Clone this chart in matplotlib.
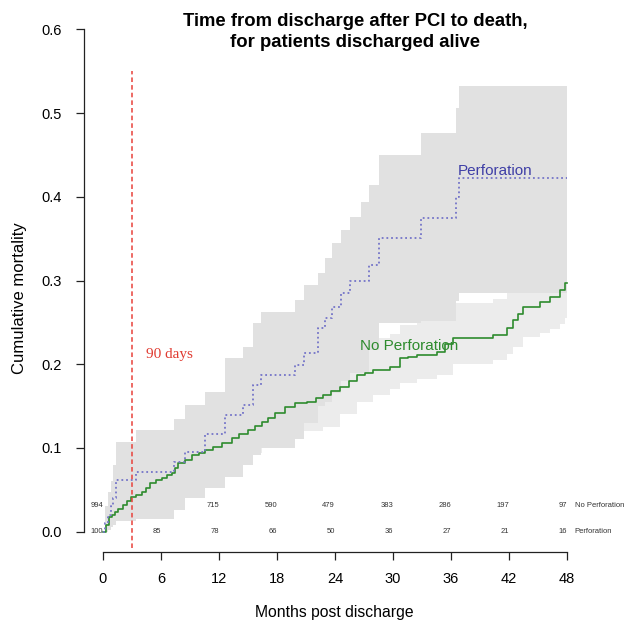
import matplotlib
matplotlib.use("Agg")
import matplotlib.pyplot as plt
import numpy as np

plt.rcParams['font.family'] = ['Liberation Sans', 'DejaVu Sans']

# ---- data ----
# Perforation group: step times (months), estimate, CI lower, CI upper
perf_t = [0, 0.2, 0.5, 0.8, 1.0, 1.3, 3.4, 7.3, 8.5, 10.6, 12.6, 14.5, 15.5, 16.3,
          19.9, 20.8, 22.2, 23.0, 23.7, 24.6, 25.6, 26.7, 27.5, 28.5, 32.9, 36.5, 36.8]
perf_est = [0, 0.01, 0.02, 0.03, 0.04, 0.061, 0.071, 0.083, 0.095, 0.117, 0.139, 0.151,
            0.175, 0.187, 0.199, 0.213, 0.243, 0.255, 0.268, 0.285, 0.30, 0.30, 0.318,
            0.351, 0.375, 0.40, 0.423]
perf_lo = [0, 0.0, 0.002, 0.005, 0.008, 0.012, 0.015, 0.026, 0.04, 0.052, 0.065, 0.08,
           0.092, 0.10, 0.11, 0.13, 0.15, 0.155, 0.165, 0.18, 0.19, 0.19, 0.217, 0.249,
           0.252, 0.275, 0.285]
perf_hi = [0, 0.03, 0.047, 0.06, 0.08, 0.107, 0.121, 0.135, 0.151, 0.167, 0.207, 0.22,
           0.249, 0.262, 0.277, 0.295, 0.309, 0.327, 0.345, 0.36, 0.376, 0.394, 0.414,
           0.45, 0.476, 0.506, 0.532]

# No perforation group: estimate
nop_t = [0, 0.3, 0.6, 0.9, 1.2, 1.6, 2.1, 2.5, 2.9, 3.4, 4.0, 4.4, 4.9, 5.5, 6.1, 6.6,
         7.1, 7.5, 7.8, 8.5, 9.2, 9.9, 10.6, 11.4, 12.3, 13.3, 14.1, 15.0, 15.7, 16.4,
         17.1, 17.8, 18.8, 19.9, 21.1, 22.0, 22.8, 23.6, 24.5, 25.4, 26.3, 27.1, 27.9,
         29.7, 30.7, 31.5, 32.5, 34.5, 35.4, 36.2, 40.3, 41.8, 42.4, 42.9, 43.4, 45.2,
         46.2, 47.3, 47.8]
nop_est = [0, 0.008, 0.017, 0.020, 0.023, 0.027, 0.032, 0.036, 0.041, 0.044, 0.047,
           0.052, 0.058, 0.061, 0.064, 0.067, 0.070, 0.076, 0.082, 0.086, 0.091, 0.094,
           0.097, 0.101, 0.106, 0.112, 0.116, 0.121, 0.126, 0.131, 0.136, 0.142, 0.149,
           0.154, 0.155, 0.159, 0.163, 0.168, 0.173, 0.180, 0.187, 0.190, 0.193, 0.197,
           0.207, 0.209, 0.211, 0.215, 0.224, 0.231, 0.235, 0.243, 0.253, 0.260, 0.268,
           0.274, 0.280, 0.289, 0.297]
# No perforation group: confidence band steps
nop_ci_t = [0, 0.4, 1.2, 2.1, 2.9, 4.0, 4.9, 6.1, 7.1, 7.8, 9.2, 10.6, 12.3, 13.3, 15.0,
            16.4, 17.8, 18.8, 19.9, 21.1, 22.8, 24.5, 26.3, 27.9, 29.7, 30.7, 32.5, 34.5,
            36.2, 40.3, 41.8, 42.4, 43.4, 45.2, 46.2, 47.3, 47.8]
nop_lo = [0, 0.009, 0.013, 0.020, 0.027, 0.032, 0.041, 0.046, 0.051, 0.061, 0.069,
          0.074, 0.082, 0.087, 0.094, 0.103, 0.112, 0.118, 0.120, 0.120, 0.125, 0.140,
          0.155, 0.163, 0.170, 0.177, 0.182, 0.187, 0.200, 0.205, 0.212, 0.220, 0.232,
          0.237, 0.242, 0.248, 0.255]
nop_hi = [0, 0.025, 0.034, 0.045, 0.055, 0.062, 0.075, 0.082, 0.089, 0.103, 0.113,
          0.120, 0.130, 0.137, 0.148, 0.159, 0.172, 0.180, 0.186, 0.187, 0.196, 0.208,
          0.224, 0.231, 0.236, 0.247, 0.252, 0.257, 0.273, 0.278, 0.290, 0.302, 0.318,
          0.325, 0.332, 0.343, 0.352]

# numbers at risk
risk_months = [0, 6, 12, 18, 24, 30, 36, 42, 48]
risk_nop = ['994', '', '715', '590', '479', '383', '286', '197', '97']
risk_perf = ['100', '85', '78', '66', '50', '36', '27', '21', '16']

x_ticks = [0, 6, 12, 18, 24, 30, 36, 42, 48]
y_ticks = [0.0, 0.1, 0.2, 0.3, 0.4, 0.5, 0.6]


def extend(t, v):
    # carry last value to end of follow-up
    return np.append(t, 48), np.append(v, v[-1])


W, H = 641, 623
fig = plt.figure(figsize=(W / 100, H / 100), dpi=100)
ax = fig.add_axes([84.4 / W, (H - 551.6) / H, (585.6 - 84.4) / W, (551.6 - 9.4) / H])
ax.set_xlim(-1.92, 49.92)
ax.set_ylim(-0.024, 0.624)

# confidence bands
t, lo = extend(nop_ci_t, nop_lo)
_, hi = extend(nop_ci_t, nop_hi)
ax.fill_between(t, lo, hi, step='post', color='#ececec', lw=0)
t, lo = extend(perf_t, perf_lo)
_, hi = extend(perf_t, perf_hi)
ax.fill_between(t, lo, hi, step='post', color='#e1e1e1', lw=0)

# curves
t, v = extend(nop_t, nop_est)
ax.step(t, v, where='post', color='#2e8b2e', lw=1.2)
t, v = extend(perf_t, perf_est)
ax.step(t, v, where='post', color='#7474c8', lw=1.3, linestyle=(0, (1, 1.6)))

# 90 day line
ax.plot([3, 3], [-0.02, 0.55], color='#e8413a', lw=1.1, linestyle=(0, (3, 2)), clip_on=False)
ax.text(4.4, 0.212, '90 days', color='#e03a30', fontsize=11,
        family=['Liberation Serif', 'DejaVu Serif'], va='center', ha='left')

ax.text(36.7, 0.431, 'Perforation', color='#3e3ea6', fontsize=11, va='center', ha='left')
ax.text(26.6, 0.222, 'No Perforation', color='#2e8b2e', fontsize=11, va='center', ha='left')

# at-risk table
for m, a, b in zip(risk_months, risk_nop, risk_perf):
    if a:
        ax.text(m, 0.031, a, fontsize=5.5, color='#333333', ha='right', va='center')
    ax.text(m, 0.0, b, fontsize=5.5, color='#333333', ha='right', va='center')
ax.text(48.8, 0.031, 'No Perforation', fontsize=5.5, color='#333333', ha='left', va='center')
ax.text(48.8, 0.0, 'Perforation', fontsize=5.5, color='#333333', ha='left', va='center')

# R-style axes
for s in ['top', 'right']:
    ax.spines[s].set_visible(False)
ax.spines['left'].set_bounds(0, 0.6)
ax.spines['bottom'].set_bounds(0, 48)
for s in ['left', 'bottom']:
    ax.spines[s].set_color('#222222')
    ax.spines[s].set_linewidth(0.9)
ax.set_xticks(x_ticks)
ax.set_yticks(y_ticks)
ax.set_yticklabels(['0.0', '0.1', '0.2', '0.3', '0.4', '0.5', '0.6'])
ax.tick_params(axis='both', length=6, width=0.9, color='#222222', labelsize=10.5)
ax.tick_params(axis='y', pad=10)
ax.tick_params(axis='x', pad=9)

fig.text(20 / W, 1 - 298 / H, 'Cumulative mortality', rotation=90, fontsize=12,
         ha='center', va='center')
fig.text(334 / W, 1 - 612 / H, 'Months post discharge', fontsize=11.3,
         ha='center', va='center')
fig.text(355 / W, 1 - 32 / H, 'Time from discharge after PCI to death,\nfor patients discharged alive',
         fontsize=13.3, fontweight='bold', ha='center', va='center', linespacing=1.35)

fig.savefig('out.png', dpi=100)
